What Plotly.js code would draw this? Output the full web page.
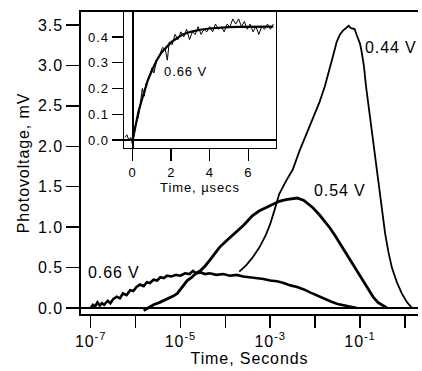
<!DOCTYPE html>
<html><head><meta charset="utf-8">
<script src="https://cdn.plot.ly/plotly-3.0.1.min.js"></script>
<style>html,body{margin:0;padding:0;background:#fff}#plot{width:422px;height:371px}svg text{letter-spacing:0.9px}</style>
</head><body><div id="plot"></div>
<script>
// main traces: log10(time, s) and photovoltage (mV)
const t066 = [-7.0,-6.95,-6.9,-6.85,-6.8,-6.75,-6.7,-6.62,-6.56,-6.5,-6.42,-6.35,-6.28,-6.2,-6.12,-6.05,-5.98,-5.9,-5.82,-5.75,-5.68,-5.6,-5.52,-5.45,-5.37,-5.3,-5.2,-5.1,-5.0,-4.9,-4.8,-4.72,-4.65,-4.55,-4.45,-4.35,-4.2,-4.05,-3.9,-3.75,-3.6,-3.45,-3.3,-3.15,-3.0,-2.85,-2.7,-2.55,-2.4,-2.25,-2.1,-1.95,-1.8,-1.65,-1.5,-1.35,-1.2,-1.07];
const v066 = [0.00,0.04,0.02,0.07,0.03,0.06,0.04,0.09,0.06,0.11,0.14,0.12,0.18,0.16,0.22,0.21,0.26,0.29,0.27,0.32,0.31,0.35,0.34,0.38,0.37,0.40,0.39,0.41,0.40,0.43,0.42,0.46,0.43,0.44,0.42,0.43,0.41,0.42,0.40,0.41,0.39,0.38,0.37,0.36,0.34,0.33,0.31,0.28,0.26,0.23,0.19,0.15,0.11,0.08,0.05,0.03,0.01,0.00];
const t054 = [-5.82,-5.7,-5.6,-5.46,-5.3,-5.15,-5.07,-4.98,-4.9,-4.85,-4.75,-4.65,-4.56,-4.45,-4.35,-4.25,-4.13,-4.0,-3.88,-3.76,-3.6,-3.5,-3.4,-3.25,-3.09,-2.95,-2.8,-2.65,-2.5,-2.4,-2.25,-2.1,-2.05,-1.9,-1.8,-1.67,-1.55,-1.45,-1.3,-1.2,-1.1,-0.93,-0.8,-0.7,-0.6,-0.5,-0.4];
const v054 = [-0.03,0.01,0.04,0.07,0.11,0.15,0.18,0.24,0.30,0.34,0.38,0.43,0.46,0.52,0.59,0.66,0.75,0.82,0.88,0.93,1.02,1.08,1.14,1.20,1.24,1.28,1.32,1.34,1.35,1.36,1.33,1.27,1.24,1.15,1.08,0.99,0.89,0.80,0.67,0.57,0.48,0.34,0.22,0.13,0.07,0.03,0.00];
const t044 = [-3.69,-3.55,-3.4,-3.24,-3.1,-3.0,-2.9,-2.8,-2.65,-2.5,-2.35,-2.2,-2.05,-1.9,-1.78,-1.67,-1.6,-1.52,-1.45,-1.38,-1.3,-1.25,-1.2,-1.12,-1.07,-1.0,-0.96,-0.91,-0.87,-0.8,-0.73,-0.65,-0.58,-0.5,-0.44,-0.37,-0.29,-0.18,-0.07,0.05,0.12,0.16];
const v044 = [0.45,0.52,0.62,0.75,0.90,1.04,1.22,1.41,1.57,1.71,1.94,2.14,2.35,2.55,2.75,2.96,3.12,3.29,3.38,3.43,3.47,3.49,3.46,3.45,3.37,3.27,3.16,2.98,2.76,2.46,2.14,1.83,1.53,1.20,0.92,0.70,0.50,0.32,0.18,0.07,0.02,0.00];
// inset: time (µs) and photovoltage (mV)
const tFit = [0,0.1,0.2,0.3,0.45,0.6,0.8,1.0,1.25,1.5,1.75,2.0,2.3,2.6,3.0,3.5,4.0,4.5,5.0,5.5,6.0,6.5,7.0,7.3];
const vFit = [0,0.04,0.075,0.11,0.15,0.19,0.235,0.27,0.31,0.34,0.36,0.38,0.395,0.41,0.42,0.428,0.433,0.436,0.438,0.439,0.44,0.44,0.44,0.44];
const tRaw = [-0.4,-0.3,-0.2,-0.1,0.0,0.05,0.15,0.3,0.4,0.5,0.6,0.7,0.85,1.0,1.1,1.25,1.4,1.55,1.7,1.8,1.9,2.05,2.2,2.35,2.5,2.65,2.8,2.95,3.1,3.25,3.4,3.55,3.7,3.85,4.0,4.15,4.3,4.45,4.6,4.75,4.9,5.05,5.2,5.35,5.5,5.65,5.8,5.95,6.1,6.25,6.4,6.55,6.7,6.85,7.0,7.15,7.3];
const vRaw = [0.01,0.02,0.0,0.01,-0.02,0.02,0.06,0.09,0.14,0.20,0.17,0.22,0.24,0.28,0.26,0.31,0.33,0.36,0.35,0.31,0.38,0.37,0.41,0.39,0.42,0.40,0.43,0.39,0.42,0.41,0.44,0.41,0.43,0.42,0.44,0.42,0.45,0.43,0.44,0.42,0.45,0.44,0.47,0.45,0.47,0.44,0.46,0.43,0.45,0.42,0.44,0.41,0.44,0.43,0.45,0.43,0.45];
const xLabelExp = [-7,-5,-3,-1];
const xLabelText = ['10<sup>-7</sup>','10<sup>-5</sup>','10<sup>-3</sup>','10<sup>-1</sup>'];
const xMinorExp = [-6,-4,-2,0];
const yTicks = [0,0.5,1.0,1.5,2.0,2.5,3.0,3.5];
const insetYTicks = [0,0.1,0.2,0.3,0.4];
const insetXTicks = [0,2,4,6];

const toSec = a => a.map(e => Math.pow(10, e));
const font = 'Liberation Sans, Arial, sans-serif';
const traces = [
  {x: toSec(t066), y: v066, mode:'lines', line:{color:'#000', width:2.6}, xaxis:'x', yaxis:'y'},
  {x: toSec(t054), y: v054, mode:'lines', line:{color:'#000', width:2.8}, xaxis:'x', yaxis:'y'},
  {x: toSec(t044), y: v044, mode:'lines', line:{color:'#000', width:1.8}, xaxis:'x', yaxis:'y'},
  {x: tRaw, y: vRaw, mode:'lines', line:{color:'#000', width:1}, xaxis:'x2', yaxis:'y2'},
  {x: tFit, y: vFit, mode:'lines', line:{color:'#000', width:2.2}, xaxis:'x2', yaxis:'y2'}
];
const tk = {ticks:'outside', tickwidth:1.5, tickcolor:'#000', showgrid:false};
const layout = {
  width:422, height:371, showlegend:false,
  margin:{l:81, r:4, t:12, b:57},
  paper_bgcolor:'#fff', plot_bgcolor:'rgba(0,0,0,0)',
  font:{family:font, color:'#000', size:16},
  xaxis:Object.assign({type:'log', range:[-7.216,0.292], tickmode:'array', tickvals: toSec(xLabelExp), ticktext: xLabelText,
    ticklen:12, zeroline:false,
    minor:{tickmode:'array', tickvals: toSec(xMinorExp), ticks:'outside', ticklen:12, tickwidth:1.5, tickcolor:'#000', showgrid:false},
    showline:true, linewidth:1.8, linecolor:'#000', mirror:true,
    tickfont:{size:16}, title:{text:'Time, Seconds', font:{size:16}, standoff:2}}, tk),
  yaxis:Object.assign({range:[-0.074,3.661], tickmode:'array', tickvals:yTicks, ticktext: yTicks.map(v=>v.toFixed(1)),
    ticklen:13, zeroline:true, zerolinewidth:1.5, zerolinecolor:'#000',
    showline:true, linewidth:1.8, linecolor:'#000', tickfont:{size:16},
    title:{text:'Photovoltage, mV', font:{size:16}, standoff:4}}, tk),
  xaxis2:Object.assign({domain:[0.1276,0.5786], anchor:'y2', range:[-0.45,7.44], tickmode:'array', tickvals:insetXTicks,
    ticklen:12, zeroline:true, zerolinewidth:1.8, zerolinecolor:'#000',
    showline:true, linewidth:1.5, linecolor:'#000', mirror:true, tickfont:{size:13},
    title:{text:'Time, µsecs', font:{size:13}, standoff:1}}, tk),
  yaxis2:Object.assign({domain:[0.5497,1], anchor:'x2', range:[-0.031,0.497], tickmode:'array', tickvals:insetYTicks,
    ticktext: insetYTicks.map(v=>v.toFixed(1)),
    ticklen:11, zeroline:true, zerolinewidth:1.5, zerolinecolor:'#000',
    showline:true, linewidth:1.5, linecolor:'#000', mirror:true, tickfont:{size:13}}, tk),
  annotations:[
    {xref:'paper', yref:'paper', x:(86-81)/337, y:(314-272)/302, xanchor:'left', yanchor:'middle', text:'0.66 V', showarrow:false, font:{size:16}},
    {xref:'paper', yref:'paper', x:(312-81)/337, y:(314-190)/302, xanchor:'left', yanchor:'middle', text:'0.54 V', showarrow:false, font:{size:16}},
    {xref:'paper', yref:'paper', x:(363-81)/337, y:(314-47)/302, xanchor:'left', yanchor:'middle', text:'0.44 V', showarrow:false, font:{size:16}},
    {xref:'paper', yref:'paper', x:(162-81)/337, y:(314-71)/302, xanchor:'left', yanchor:'middle', text:'0.66 V', showarrow:false, font:{size:13}}
  ]
};
Plotly.newPlot('plot', traces, layout, {staticPlot:true, displayModeBar:false});
</script></body></html>
